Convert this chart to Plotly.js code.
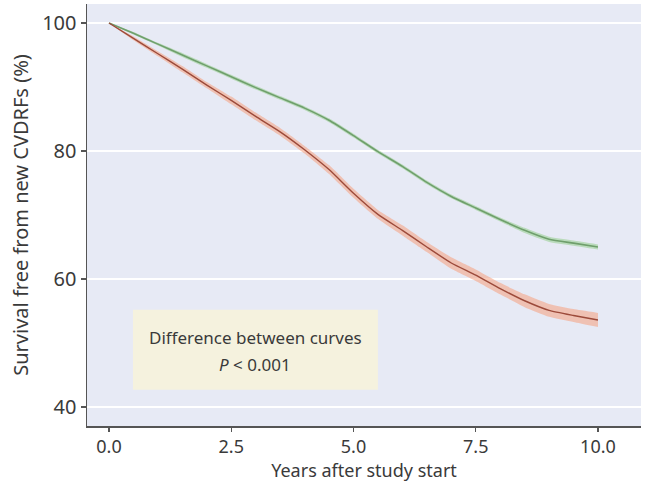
<!DOCTYPE html>
<html>
<head>
<meta charset="utf-8">
<script src="https://cdn.plot.ly/plotly-3.0.1.min.js"></script>
<style>html,body{margin:0;padding:0;background:#fff;}#chart{width:653px;height:484px;}</style>
</head>
<body>
<div id="chart"></div>
<script>
// Years after study start
const years = [0, 0.5, 1.0, 1.5, 2.0, 2.5, 3.0, 3.5, 4.0, 4.5, 5.0, 5.5, 6.0, 6.5, 7.0, 7.5, 8.0, 8.5, 9.0, 9.5, 10.0];
// Green curve (higher survival)
const greenSurv = [100, 98.4, 96.7, 95.0, 93.3, 91.6, 89.9, 88.3, 86.7, 84.8, 82.4, 79.9, 77.6, 75.1, 72.9, 71.1, 69.3, 67.6, 66.2, 65.6, 65.0];
const greenLo   = [100, 98.2, 96.5, 94.7, 93.0, 91.3, 89.6, 88.0, 86.4, 84.5, 82.1, 79.6, 77.3, 74.8, 72.6, 70.8, 69.0, 67.2, 65.8, 65.2, 64.6];
const greenHi   = [100, 98.6, 96.9, 95.3, 93.6, 91.9, 90.2, 88.6, 87.0, 85.1, 82.7, 80.2, 77.9, 75.4, 73.2, 71.4, 69.6, 68.0, 66.6, 66.0, 65.4];
// Red curve (lower survival)
const redSurv = [100, 97.6, 95.2, 92.8, 90.3, 87.9, 85.4, 83.0, 80.2, 77.1, 73.4, 70.1, 67.6, 65.0, 62.5, 60.6, 58.5, 56.6, 55.1, 54.3, 53.6];
const redLo   = [100, 97.3, 94.8, 92.3, 89.8, 87.3, 84.8, 82.4, 79.6, 76.4, 72.7, 69.4, 66.8, 64.2, 61.6, 59.7, 57.6, 55.6, 54.1, 53.3, 52.5];
const redHi   = [100, 97.9, 95.6, 93.3, 90.8, 88.5, 86.0, 83.6, 80.8, 77.8, 74.1, 70.8, 68.4, 65.8, 63.4, 61.5, 59.4, 57.6, 56.1, 55.3, 54.7];
// Axis ticks
const xTicks = [0, 2.5, 5, 7.5, 10];
const xTickText = ['0.0', '2.5', '5.0', '7.5', '10.0'];
const yTicks = [40, 60, 80, 100];

const font = '"Noto Sans", "Open Sans", sans-serif';

function band(lo, hi, color) {
  return [
    {x: years, y: lo, mode: 'lines', line: {width: 0, color: color, shape: 'spline', smoothing: 0.5}, hoverinfo: 'skip', showlegend: false},
    {x: years, y: hi, mode: 'lines', fill: 'tonexty', fillcolor: color, line: {width: 0, color: color, shape: 'spline', smoothing: 0.5}, hoverinfo: 'skip', showlegend: false}
  ];
}

const data = [
  ...band(greenLo, greenHi, 'rgba(150,205,140,0.55)'),
  ...band(redLo, redHi, 'rgba(245,165,135,0.6)'),
  {x: years, y: greenSurv, mode: 'lines', line: {color: '#6f9f6c', width: 1.6, shape: 'spline', smoothing: 0.5}, showlegend: false},
  {x: years, y: redSurv, mode: 'lines', line: {color: '#9c4a3a', width: 1.4, shape: 'spline', smoothing: 0.5}, showlegend: false}
];

const layout = {
  width: 653, height: 484,
  margin: {l: 87, r: 12, t: 4, b: 58},
  paper_bgcolor: '#ffffff',
  plot_bgcolor: '#e7eaf5',
  font: {family: font, color: '#3a3a3a'},
  showlegend: false,
  xaxis: {
    range: [-0.45, 10.88],
    tickvals: xTicks, ticktext: xTickText,
    showgrid: false, zeroline: false,
    showline: true, linecolor: '#555555', linewidth: 1.5,
    ticks: 'outside', ticklen: 4, tickwidth: 1.2, tickcolor: '#555555',
    tickfont: {size: 18, color: '#3a3a3a'},
    title: {text: 'Years after study start', font: {size: 18, color: '#3a3a3a'}, standoff: 0}
  },
  yaxis: {
    range: [37.03, 102.97],
    tickvals: yTicks,
    showgrid: true, gridcolor: '#ffffff', gridwidth: 1.5, zeroline: false,
    showline: true, linecolor: '#555555', linewidth: 1.5,
    ticks: 'outside', ticklen: 5, tickwidth: 1.2, tickcolor: '#555555',
    tickfont: {size: 20, color: '#3a3a3a'},
    title: {text: 'Survival free from new CVDRFs (%)', font: {size: 20, color: '#3a3a3a'}, standoff: 8}
  },
  shapes: [
    {type: 'rect', xref: 'x', yref: 'y', x0: 0.49, x1: 5.5, y0: 42.7, y1: 55.2,
     fillcolor: '#f5f2de', line: {width: 0}, layer: 'above'}
  ],
  annotations: [
    {xref: 'x', yref: 'y', x: 2.99, y: 50.8, text: 'Difference between curves', showarrow: false,
     font: {size: 17, color: '#3a3a3a'}},
    {xref: 'x', yref: 'y', x: 2.99, y: 46.7, text: '<i>P</i> < 0.001', showarrow: false,
     font: {size: 17, color: '#3a3a3a'}}
  ]
};

Plotly.newPlot('chart', data, layout, {displayModeBar: false, staticPlot: true});
</script>
</body>
</html>
